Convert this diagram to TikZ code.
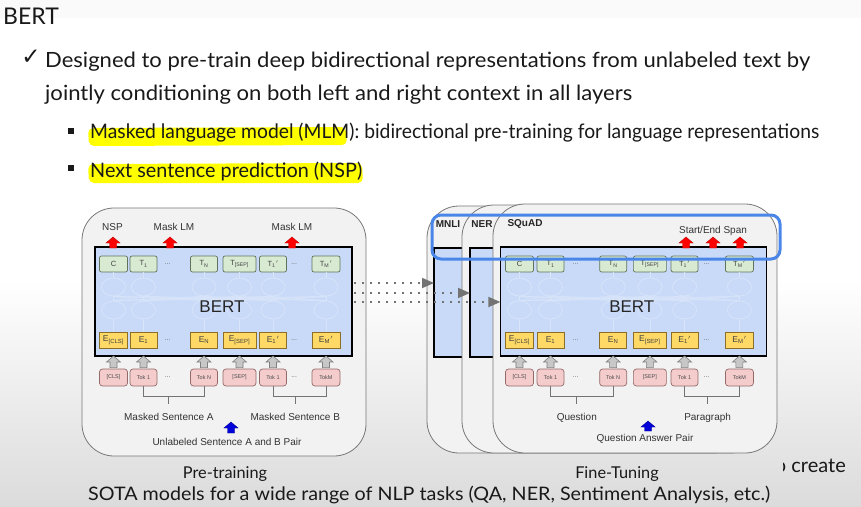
\documentclass[tikz,border=0pt]{standalone}
\usepackage{fontspec}
\setmainfont{Lato}
\newfontfamily\arialfont{Liberation Sans}
\newfontfamily\symfont{DejaVu Sans}
\usetikzlibrary{positioning}
\usetikzlibrary{calc}
\usetikzlibrary{arrows.meta}
\usetikzlibrary{shapes.geometric}

\definecolor{bertblue}{RGB}{201,218,248}
\definecolor{netline}{RGB}{216,228,248}
\definecolor{tfill}{RGB}{217,234,211}
\definecolor{tline}{RGB}{95,115,90}
\definecolor{efill}{RGB}{255,217,102}
\definecolor{eline}{RGB}{140,110,40}
\definecolor{kfill}{RGB}{244,204,204}
\definecolor{kline}{RGB}{150,105,105}
\definecolor{stagefill}{RGB}{242,242,242}
\definecolor{stageline}{RGB}{120,120,120}
\definecolor{hilite}{RGB}{255,255,0}
\definecolor{spanblue}{RGB}{74,134,232}
\definecolor{slidetext}{RGB}{25,25,25}

\tikzset{
  tbox/.style={draw=tline, fill=tfill, rounded corners=2pt, minimum height=16pt, line width=0.7pt,
    text=black!75, font=\arialfont\fontsize{7.5}{8}\selectfont},
  ebox/.style={draw=eline, fill=efill, minimum height=16pt, line width=0.7pt,
    text=black!75, font=\arialfont\fontsize{8.5}{9}\selectfont},
  kbox/.style={draw=kline, fill=kfill, rounded corners=3pt, minimum height=17pt, line width=0.7pt,
    text=black!70, font=\arialfont\fontsize{5.5}{6}\selectfont},
  netnode/.style={ellipse, draw=netline, line width=0.7pt, minimum width=24pt, minimum height=18pt},
  net/.style={draw=netline, line width=0.4pt},
  bertrect/.style={draw=black, fill=bertblue, line width=1.3pt},
  berttext/.style={font=\arialfont\fontsize{17}{20}\selectfont, text=black!85},
  dotstext/.style={font=\arialfont\fontsize{7}{8}\selectfont, text=black!60},
  stage/.style={draw=stageline, fill=stagefill, line width=0.8pt, rounded corners=32pt},
  bracket/.style={draw=black!55, line width=0.9pt},
  dlabel/.style={font=\arialfont\fontsize{10}{12}\selectfont, text=black!80},
  tasklabel/.style={font=\arialfont\bfseries\fontsize{10}{12}\selectfont, text=black!85},
  grayarrow/.style={draw=black!50, fill=black!22, line width=0.6pt},
  redarrow/.style={draw=red!75!black, fill=red, line width=0.4pt},
  bluearrow/.style={draw=blue!60!black, fill=blue!85!black, line width=0.4pt},
  dotline/.style={draw=black!55, line width=1.8pt, dash pattern=on 1.8pt off 6.2pt,
    -{Triangle[length=12pt,width=10pt]}},
  titletext/.style={font=\fontsize{23}{28}\selectfont, text=slidetext},
  bodytext/.style={font=\fontsize{21}{25}\selectfont, text=slidetext},
  subtext/.style={font=\fontsize{20}{24}\selectfont, text=slidetext},
  captext/.style={font=\fontsize{16.3}{20}\selectfont, text=slidetext},
  foottext/.style={font=\fontsize{18.6}{22}\selectfont, text=slidetext},
  bulletsq/.style={fill=slidetext, minimum size=6pt},
}

% up-pointing block arrow from #2 (base) to #3 (tip)
\newcommand\blockarrow[3][]{%
  \filldraw[#1] ($(#2)+(-3.5,0)$) -- ($(#3)+(-3.5,6)$) -- ($(#3)+(-7,6)$) -- (#3)
    -- ($(#3)+(7,6)$) -- ($(#3)+(3.5,6)$) -- ($(#2)+(3.5,0)$) -- cycle;}
\newcommand\prm{\kern0.3pt$'$}

% one BERT block: #1 name prefix, #2 xscale, #3 xshift
\newcommand\bertblock[3]{%
  \pgfmathsetmacro\bxa{#2*95+#3}
  \pgfmathsetmacro\bxb{#2*352+#3}
  \pgfmathsetmacro\bertx{#2*222+#3}
  \coordinate (#1-nw) at (\bxa,247);
  \coordinate (#1-se) at (\bxb,356);
  \draw[bertrect] (#1-nw) rectangle (#1-se);
  \foreach \n/\cx/\w/\tl/\el/\kl in {
      1/113.5/28/C/E\textsubscript{[CLS]}/[CLS],
      2/143.5/27/T\textsubscript{1}/E\textsubscript{1}/Tok 1,
      3/204/27/T\textsubscript{N}/E\textsubscript{N}/Tok N,
      4/239.5/33/T\textsubscript{[SEP]}/E\textsubscript{[SEP]}/[SEP],
      5/273/27/T\textsubscript{1}\prm/E\textsubscript{1}\prm/Tok 1,
      6/326/28/T\textsubscript{M}\prm/E\textsubscript{M}\prm/TokM}{
    \pgfmathsetmacro\X{#2*\cx+#3}
    \node[tbox, minimum width=\w] (#1-t\n) at (\X,264) {\tl};
    \node[ebox, minimum width=\w] (#1-e\n) at (\X,340) {\el};
    \node[kbox, minimum width=\w] (#1-k\n) at (\X,377.5) {\kl};
    \node[netnode] (#1-u\n) at (\X,287) {};
    \node[netnode] (#1-l\n) at (\X,310) {};
    \path ($(#1-k\n.north)+(0,-1)$) coordinate (#1-ga\n) (#1-k\n |- #1-se) coordinate (#1-gb\n);
    \blockarrow[grayarrow]{#1-ga\n}{#1-gb\n}
  }
  \foreach \n in {1,...,6}{
    \draw[net] (#1-t\n) -- (#1-u\n);
    \draw[net] (#1-u\n) -- (#1-l\n);
    \draw[net] (#1-l\n) -- (#1-e\n);
  }
  \foreach \a in {1,...,6}
    \foreach \b in {1,...,6}
      \draw[net] (#1-u\a.south) -- (#1-l\b.north);
  \node[berttext] (#1-label) at (\bertx,307) {BERT};
  \foreach \r in {t,e,k}{
    \node[dotstext] (#1-\r d1) at ($(#1-\r2)!0.4!(#1-\r3)$) {...};
    \node[dotstext] (#1-\r d2) at ($(#1-\r5)!0.4!(#1-\r6)$) {...};
  }
  % sentence brackets
  \draw[bracket] (#1-k2.south) -- ++(0,10) -| (#1-k3.south);
  \draw[bracket] (#1-k5.south) -- ++(0,10) -| (#1-k6.south);
  \path ($(#1-k2.south)!0.42!(#1-k3.south)$) coordinate (#1-sa0);
  \path ($(#1-k5.south)!0.42!(#1-k6.south)$) coordinate (#1-sb0);
  \draw[bracket] ($(#1-sa0)+(0,10)$) -- ++(0,8) coordinate (#1-sa);
  \draw[bracket] ($(#1-sb0)+(0,10)$) -- ++(0,8) coordinate (#1-sb);
}

\begin{document}
\begin{tikzpicture}[x=1pt, y=-1pt, every node/.style={inner sep=0pt}]
  % slide background
  \fill[white] (0,0) rectangle (861,506);
  \fill[black!2] (0,0) rectangle (861,18);
  \shade[top color=white, bottom color=black!14] (0,280) rectangle (861,506);
  \useasboundingbox (0,0) rectangle (861,506);

  % slide text
  \node[titletext, anchor=base west] (title) at (3,24) {BERT};
  \node[anchor=base, font=\symfont\fontsize{23}{23}\selectfont, text=slidetext] (check) at (31,64) {✓};
  \node[bodytext, anchor=base west] (line1) at (45,67)
    {\resizebox{765pt}{\height}{Designed to pre-train deep bidirectional representations from unlabeled text by}};
  \node[bodytext, anchor=base west] (line2) at (45,100)
    {\resizebox{587pt}{\height}{jointly conditioning on both left and right context in all layers}};
  \fill[hilite, rounded corners=5pt] (88,128) -- (346,127) -- (347,145) -- (89,146) -- cycle;
  \fill[hilite, rounded corners=5pt] (88,164) -- (362,163) -- (363,183) -- (89,183) -- cycle;
  \node[bulletsq] (b1) at (71,131) {};
  \node[bulletsq] (b2) at (71,168) {};
  \node[subtext, anchor=base west] (mlm) at (90,138)
    {\resizebox{729pt}{\height}{Masked language model (MLM): bidirectional pre-training for language representations}};
  \node[subtext, anchor=base west] (nspline) at (90,177)
    {\resizebox{272pt}{\height}{Next sentence prediction (NSP)}};

  % pre-training
  \draw[stage] (82,208) rectangle (366,456);
  \bertblock{pt}{1}{0}
  \node[dlabel] (pt-nsp) at (112.5,227) {NSP};
  \node[dlabel] (pt-mlm1) at (174,227) {Mask LM};
  \node[dlabel] (pt-mlm2) at (292,227) {Mask LM};
  \path (113,248) coordinate (pt-r1a) (113,237) coordinate (pt-r1b)
        (170,248) coordinate (pt-r2a) (170,237) coordinate (pt-r2b)
        (292,248) coordinate (pt-r3a) (292,237) coordinate (pt-r3b);
  \blockarrow[redarrow]{pt-r1a}{pt-r1b}
  \blockarrow[redarrow]{pt-r2a}{pt-r2b}
  \blockarrow[redarrow]{pt-r3a}{pt-r3b}
  \node[dlabel, below=9pt of pt-sa] (pt-senta) {Masked Sentence A};
  \node[dlabel, below=9pt of pt-sb] (pt-sentb) {Masked Sentence B};
  \path (231,433) coordinate (pt-ua) (231,422) coordinate (pt-ub);
  \blockarrow[bluearrow]{pt-ua}{pt-ub}
  \node[dlabel] (pt-pair) at (227,442) {Unlabeled Sentence A and B Pair};
  \node[captext, anchor=base] (pt-cap) at (225,478) {Pre-training};

  % fine-tuning
  \draw[stage] (427,206) rectangle (745,453);
  \path (434,248) coordinate (mnli-nw) (700,357) coordinate (mnli-se);
  \draw[bertrect] (mnli-nw) rectangle (mnli-se);
  \draw[stage] (462,205) rectangle (762,453);
  \path (470,248) coordinate (ner-nw) (740,357) coordinate (ner-se);
  \draw[bertrect] (ner-nw) rectangle (ner-se);
  \draw[stage] (493,204) rectangle (777,453);
  \bertblock{sq}{1.035}{402}
  \node[tasklabel] (mnli) at (448,224) {MNLI};
  \node[tasklabel] (ner) at (482,224) {NER};
  \node[tasklabel] (squad) at (525,224) {SQuAD};
  \node[dlabel] (sq-span) at (713,231) {Start/End Span};
  \path (686,248) coordinate (sq-r1a) (686,237) coordinate (sq-r1b)
        (713,248) coordinate (sq-r2a) (713,237) coordinate (sq-r2b)
        (740,248) coordinate (sq-r3a) (740,237) coordinate (sq-r3b);
  \blockarrow[redarrow]{sq-r1a}{sq-r1b}
  \blockarrow[redarrow]{sq-r2a}{sq-r2b}
  \blockarrow[redarrow]{sq-r3a}{sq-r3b}
  \node[dlabel, below=9pt of sq-sa] (sq-q) {Question};
  \node[dlabel, below=9pt of sq-sb] (sq-p) {Paragraph};
  \path (648,431) coordinate (sq-ua) (648,421) coordinate (sq-ub);
  \blockarrow[bluearrow]{sq-ua}{sq-ub}
  \node[dlabel] (sq-pair) at (645,439) {Question Answer Pair};
  \node[captext, anchor=base] (sq-cap) at (617,478) {Fine-Tuning};

  % transfer arrows
  \path (354,283) coordinate (pt-out1) (354,293) coordinate (pt-out2) (354,302) coordinate (pt-out3);
  \draw[dotline] (pt-out1) -- (pt-out1 -| mnli-nw);
  \draw[dotline] (pt-out2) -- (pt-out2 -| ner-nw);
  \draw[dotline] (pt-out3) -- (pt-out3 -| sq-nw);

  \draw[spanblue, line width=3pt, rounded corners=9pt] (432,215) rectangle (780,259);

  % footer
  \begin{scope}
    \clip (783,440) rectangle (861,490);
    \node[subtext, anchor=base east] (create) at (846,472) {to create};
  \end{scope}
  \node[foottext, anchor=base west] (sota) at (88,500)
    {\resizebox{682pt}{\height}{SOTA models for a wide range of NLP tasks (QA, NER, Sentiment Analysis, etc.)}};
\end{tikzpicture}
\end{document}
